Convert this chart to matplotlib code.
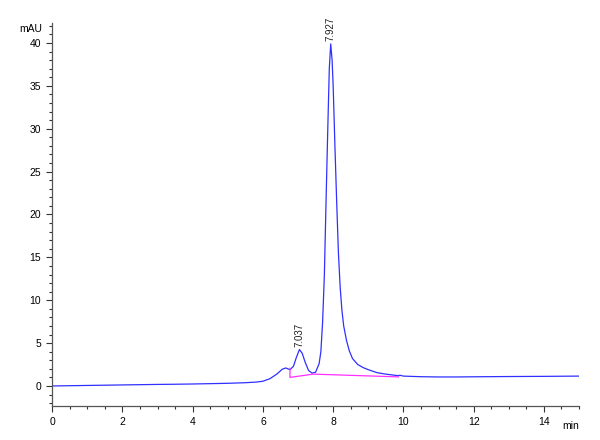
import matplotlib
matplotlib.use('Agg')
import matplotlib.pyplot as plt
from matplotlib.ticker import MultipleLocator

plt.rcParams['font.family'] = ['Liberation Sans', 'DejaVu Sans']

# chromatogram (min, mAU)
tempo = [0, 0.5, 1, 1.5, 2, 2.5, 3, 3.5, 4, 4.5, 5, 5.5, 5.8, 6.0, 6.2, 6.4,
         6.55, 6.65, 6.77, 6.87, 6.95, 7.04, 7.12, 7.2, 7.3, 7.4, 7.5, 7.6,
         7.65, 7.7, 7.75, 7.8, 7.85, 7.89, 7.93, 7.97, 8.0, 8.05, 8.1, 8.15,
         8.2, 8.25, 8.3, 8.38, 8.46, 8.55, 8.7, 8.85, 9.0, 9.25, 9.5, 9.75,
         9.85, 9.9, 10.0, 10.5, 11, 11.5, 12, 13, 14, 15]
sinal = [0.0, 0.03, 0.06, 0.09, 0.12, 0.15, 0.18, 0.2, 0.23, 0.27, 0.31, 0.38,
         0.45, 0.55, 0.85, 1.4, 1.95, 2.1, 1.9, 2.3, 3.3, 4.25, 3.8, 2.8, 1.8,
         1.5, 1.6, 2.6, 4.0, 7.5, 13.0, 22.0, 30.5, 37.0, 39.9, 38.0, 35.0,
         28.0, 21.5, 15.5, 11.5, 8.8, 7.0, 5.3, 4.1, 3.2, 2.5, 2.15, 1.9, 1.55,
         1.38, 1.25, 1.2, 1.25, 1.15, 1.08, 1.05, 1.05, 1.07, 1.1, 1.12, 1.15]

# linha de base da integracao
base_t = [6.77, 6.77, 7.43, 9.86]
base_y = [2.05, 1.0, 1.38, 1.06]

picos_t = [7.037, 7.927]
picos_y = [4.27, 39.9]
picos_txt = ['7.037', '7.927']

fig = plt.figure(figsize=(6, 4.4), dpi=100)
ax = fig.add_axes([0.087, 0.078, 0.878, 0.869])

ax.plot(tempo, sinal, color='#3030ff', lw=0.9)
ax.plot(base_t, base_y, color='#ff30ff', lw=0.9)

for t, y, s in zip(picos_t, picos_y, picos_txt):
    ax.text(t, y + 0.3, s, rotation=90, ha='center', va='bottom',
            fontsize=7, color='#202020', clip_on=False)

ax.set_xlim(0, 15)
ax.set_ylim(-2.3, 42.3)
ax.xaxis.set_major_locator(MultipleLocator(2))
ax.xaxis.set_minor_locator(MultipleLocator(0.5))
ax.yaxis.set_major_locator(MultipleLocator(5))
ax.yaxis.set_minor_locator(MultipleLocator(1))

for lado in ['top', 'right']:
    ax.spines[lado].set_visible(False)
for lado in ['left', 'bottom']:
    ax.spines[lado].set_color('#555555')
    ax.spines[lado].set_linewidth(0.9)

ax.tick_params(which='major', length=4, width=0.8, color='#333333',
               labelsize=7.5, pad=4)
ax.tick_params(which='minor', length=2.5, width=0.8, color='#333333')

ax.text(-0.02, 0.985, 'mAU', transform=ax.transAxes, ha='right', va='center',
        fontsize=7.5)
ax.text(0.985, -0.04, 'min', transform=ax.transAxes, ha='center', va='top',
        fontsize=7.5)

plt.savefig('out.png', dpi=100)
